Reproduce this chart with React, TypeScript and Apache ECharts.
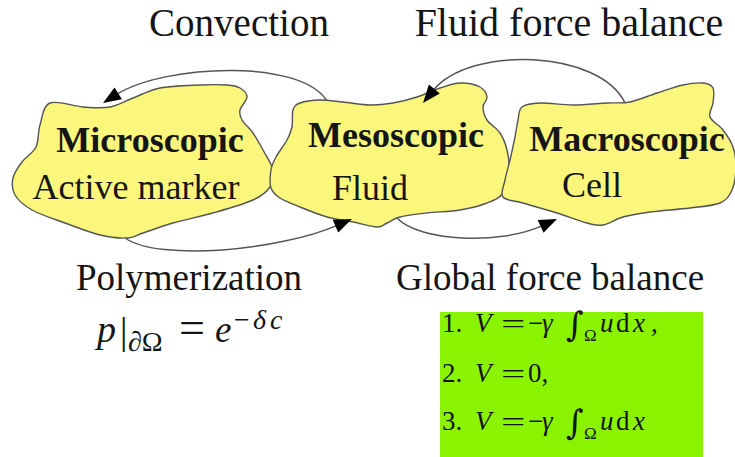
import React, { useEffect, useRef } from "react";
import * as echarts from "echarts";

// ---- content -------------------------------------------------------------
const PROCESS_LABELS = ["Convection", "Fluid force balance", "Polymerization", "Global force balance"];
const SCALE_NAMES = ["Microscopic", "Mesoscopic", "Macroscopic"];
const SCALE_SUBJECTS = ["Active marker", "Fluid", "Cell"];
const CASE_NUMBERS = ["1.", "2.", "3."];

// ---- layout ----------------------------------------------------------------
const SERIF = '"Liberation Serif", "DejaVu Serif", serif';
const FILL_BLOB = "#fbf77d";
const STROKE_BLOB = "#555555";
const GREEN = "#8af400";

const BLOBS: number[][][] = [
  [[50,103],[83,107],[110,107],[133,98],[160,88],[200,85],[227,85],[240,88],[247,97],[240,110],[242,120],[253,133],[263,150],[273,170],[270,187],[253,200],[213,213],[173,223],[143,233],[127,238],[100,235],[65,223],[32,210],[15,195],[13,178],[22,162],[36,147],[40,125]],
  [[293,110],[300,103],[320,100],[343,102],[370,105],[393,103],[417,97],[440,88],[460,83],[480,87],[487,97],[483,107],[487,120],[500,133],[507,150],[509,170],[503,193],[487,203],[460,210],[427,213],[400,217],[387,223],[377,227],[353,222],[327,217],[300,207],[280,198],[271,188],[271,170],[276,157],[287,140],[292,127]],
  [[522,107],[540,103],[573,105],[607,103],[630,102],[657,93],[683,85],[703,83],[713,88],[713,103],[710,117],[723,130],[733,147],[736,167],[732,190],[720,203],[690,208],[650,212],[623,217],[603,225],[587,223],[557,213],[523,203],[503,197],[505,180],[510,160],[515,137],[518,120]],
];

// cubic curves: [x1,y1, cpx1,cpy1, cpx2,cpy2, x2,y2] ; arrow at end
const ARROWS: number[][] = [
  [328,103, 305,58, 165,64, 103,103],
  [625,103, 600,50, 470,45, 423,103],
  [125,238, 160,262, 280,250, 352,219],
  [397,218, 420,242, 500,245, 557,219],
];

function smoothClosed(pts: number[][]): string {
  const n = pts.length;
  const f = (v: number) => v.toFixed(2);
  let d = `M${f(pts[0][0])} ${f(pts[0][1])}`;
  for (let i = 0; i < n; i++) {
    const p0 = pts[(i - 1 + n) % n], p1 = pts[i], p2 = pts[(i + 1) % n], p3 = pts[(i + 2) % n];
    const c1x = p1[0] + (p2[0] - p0[0]) / 6, c1y = p1[1] + (p2[1] - p0[1]) / 6;
    const c2x = p2[0] - (p3[0] - p1[0]) / 6, c2y = p2[1] - (p3[1] - p1[1]) / 6;
    d += ` C${f(c1x)} ${f(c1y)} ${f(c2x)} ${f(c2y)} ${f(p2[0])} ${f(p2[1])}`;
  }
  return d + " Z";
}

let registered = false;
function registerBlobs() {
  if (registered) return;
  registered = true;
  BLOBS.forEach((pts, i) => {
    echarts.graphic.registerShape("blob" + i, echarts.graphic.extendPath(smoothClosed(pts), {}) as any);
  });
}

type TOpt = { bold?: boolean; italic?: boolean; align?: string; color?: string; family?: string; sx?: number };
function T(x: number, base: number, text: string, size: number, o: TOpt = {}) {
  return {
    type: "text",
    x,
    y: base - 0.34 * size,
    scaleX: o.sx || 1,
    z: 20,
    style: {
      text,
      fontSize: size,
      fontFamily: o.family || SERIF,
      fontWeight: o.bold ? "bold" : "normal",
      fontStyle: o.italic ? "italic" : "normal",
      fill: o.color || "#151515",
      align: o.align || "left",
      verticalAlign: "middle",
    },
  };
}

function arrowElements(a: number[]) {
  const [x1, y1, cx1, cy1, cx2, cy2, x2, y2] = a;
  let dx = x2 - cx2, dy = y2 - cy2;
  const len = Math.hypot(dx, dy);
  dx /= len; dy /= len;
  const L = 18, W = 7;
  const bx = x2 - dx * L, by = y2 - dy * L;
  const nx = -dy, ny = dx;
  return [
    {
      type: "bezierCurve",
      z: 5,
      shape: { x1, y1, cpx1: cx1, cpy1: cy1, cpx2: cx2, cpy2: cy2, x2: bx + dx * 2, y2: by + dy * 2 },
      style: { stroke: "#555", lineWidth: 1.5, fill: null },
    },
    {
      type: "polygon",
      z: 30,
      shape: { points: [[x2, y2], [bx + nx * W, by + ny * W], [bx - nx * W, by - ny * W]] },
      style: { fill: "#000" },
    },
  ];
}

function integralLine(base: number, num: string, comma: boolean) {
  const s = 27;
  const els: any[] = [
    T(442, base, num, s),
    T(475, base, "V", s, { italic: true }),
    T(501, base + 1, "=", s, { sx: 1.6 }),
    T(528, base, "−", s),
    T(542, base, "γ", s, { italic: true }),
    T(566, base + 4, "∫", 34, { italic: true, family: '"DejaVu Serif", serif' }),
    T(584, base + 9, "Ω", 17),
    T(600, base, "u", s, { italic: true }),
    T(616, base, "d", s),
    T(633, base, "x", s, { italic: true }),
  ];
  if (comma) els.push(T(651, base, ",", s));
  return els;
}

function buildOption() {
  const g: any[] = [];
  BLOBS.forEach((_, i) => {
    g.push({ type: "blob" + i, x: 0, y: 0, z: 10 + i, style: { fill: FILL_BLOB, stroke: STROKE_BLOB, lineWidth: 1.4 } });
  });
  ARROWS.forEach((a) => g.push(...arrowElements(a)));

  // process labels
  g.push(T(239, 36, PROCESS_LABELS[0], 39, { align: "center" }));
  g.push(T(569, 36, PROCESS_LABELS[1], 40, { align: "center" }));
  g.push(T(189, 290, PROCESS_LABELS[2], 37, { align: "center" }));
  g.push(T(550, 290, PROCESS_LABELS[3], 37, { align: "center" }));

  // scale labels
  const nameX = [150, 396, 627], nameBase = [152, 147, 151];
  const subX = [136, 370, 592], subBase = [199, 200, 197];
  SCALE_NAMES.forEach((t, i) => g.push(T(nameX[i], nameBase[i], t, 36, { bold: true, align: "center" })));
  SCALE_SUBJECTS.forEach((t, i) => g.push(T(subX[i], subBase[i], t, 36, { align: "center" })));

  // p|∂Ω = e^{-δc}
  g.push(T(97, 342, "p", 38, { italic: true }));
  g.push(T(120, 344, "|", 37));
  g.push(T(128, 351, "∂Ω", 28));
  g.push(T(179, 343, "=", 46));
  g.push(T(215, 342, "e", 37, { italic: true }));
  g.push(T(234, 329, "−", 28));
  g.push(T(253, 329, "δ", 28, { italic: true }));
  g.push(T(270, 329, "c", 28, { italic: true }));

  // green box
  g.push({ type: "rect", z: 1, shape: { x: 440, y: 312, width: 263, height: 146 }, style: { fill: GREEN } });
  g.push(...integralLine(332, CASE_NUMBERS[0], true));
  g.push(T(442, 382, CASE_NUMBERS[1], 27));
  g.push(T(475, 382, "V", 27, { italic: true }));
  g.push(T(501, 383, "=", 27, { sx: 1.6 }));
  g.push(T(528, 382, "0,", 27));
  g.push(...integralLine(430, CASE_NUMBERS[2], false));

  return { animation: false, backgroundColor: "#ffffff", graphic: { elements: g } };
}

export default function App() {
  const ref = useRef<HTMLDivElement>(null);
  useEffect(() => {
    document.body.style.margin = "0";
    registerBlobs();
    const chart = echarts.init(ref.current!, undefined, { renderer: "svg" });
    chart.setOption(buildOption() as any);
    return () => chart.dispose();
  }, []);
  return <div ref={ref} style={{ width: 735, height: 457 }} />;
}
